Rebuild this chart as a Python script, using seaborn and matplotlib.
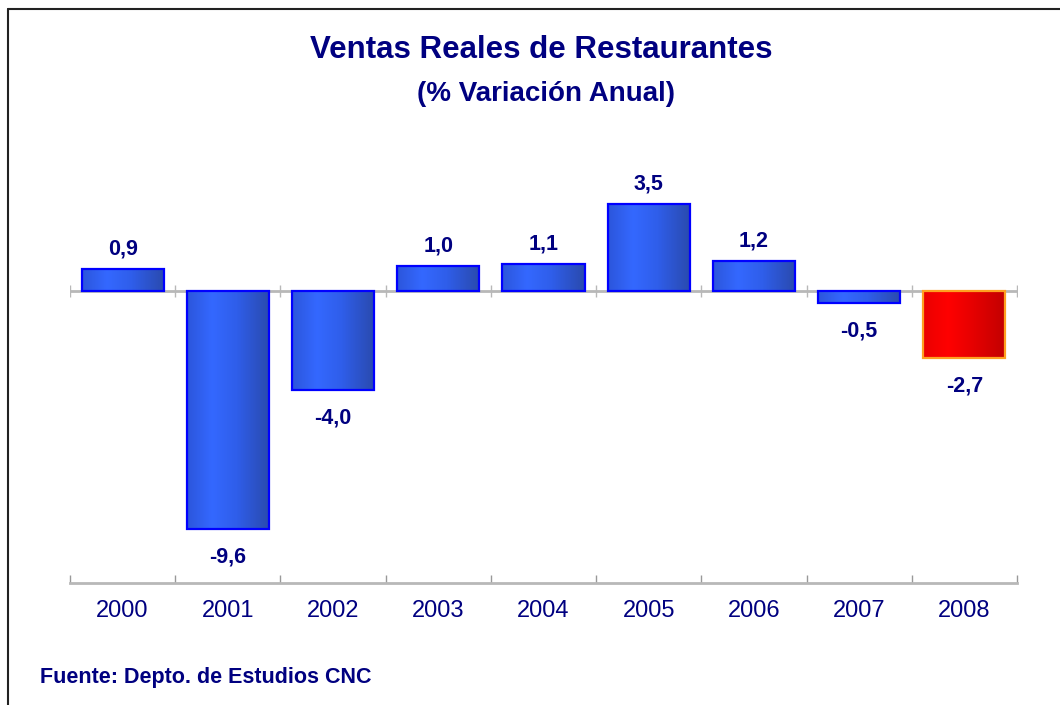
import numpy as np
import pandas as pd
import matplotlib
matplotlib.use('Agg')
import matplotlib.pyplot as plt
from matplotlib.colors import LinearSegmentedColormap
import seaborn as sns

# Data
years = ['2000', '2001', '2002', '2003', '2004', '2005', '2006', '2007', '2008']
variacion = [0.9, -9.6, -4.0, 1.0, 1.1, 3.5, 1.2, -0.5, -2.7]
bar_colors = ['#3366ff'] * 8 + ['#ff0000']

title = 'Ventas Reales de Restaurantes'
subtitle = '(% Variación Anual)'
source = 'Fuente: Depto. de Estudios CNC'

navy = '#000080'
grey = '#b8b8b8'

sns.set_style('white')
plt.rcParams['font.family'] = ['Liberation Sans', 'DejaVu Sans']

df = pd.DataFrame({'year': years, 'value': variacion})

fig = plt.figure(figsize=(10.6, 7.05), dpi=100)
ax = fig.add_axes([70 / 1060, 1 - 583 / 705, 947 / 1060, (583 - 142.2) / 705])

sns.barplot(data=df, x='year', y='value', hue='year', palette=bar_colors,
            legend=False, width=0.78, ax=ax, zorder=3)

# gradient fill like the old Excel bars
blue_cmap = LinearSegmentedColormap.from_list(
    'b', [(0, '#2c56dc'), (0.3, '#3468ff'), (0.6, '#2f5eea'), (1, '#2a4aae')])
red_cmap = LinearSegmentedColormap.from_list(
    'r', [(0, '#ea0000'), (0.3, '#ff0000'), (0.6, '#e60000'), (1, '#c20000')])
grad = np.linspace(0, 1, 100)[np.newaxis, :]

for patch, col in zip(ax.patches, bar_colors):
    x0, y0 = patch.get_x(), patch.get_y()
    w, h = patch.get_width(), patch.get_height()
    cmap = red_cmap if col == '#ff0000' else blue_cmap
    im = ax.imshow(grad, cmap=cmap, aspect='auto', zorder=2,
                   extent=[x0, x0 + w, min(y0, y0 + h), max(y0, y0 + h)])
    im.set_clip_path(patch)
    patch.set_facecolor('none')
    patch.set_edgecolor('#ffa020' if col == '#ff0000' else '#0000ff')
    patch.set_linewidth(1.6)

n = len(years)
ax.set_xlim(-0.5, n - 0.5)
ax.set_ylim((291 - 583) / 24.8, (291 - 142.2) / 24.8)

# value labels
for i, v in enumerate(variacion):
    txt = f'{v:.1f}'.replace('.', ',')
    off = 14.5 if v > 0 else -20
    ax.annotate(txt, (i, v), xytext=(0, off), textcoords='offset points',
                ha='center', va='center', fontsize=15.5, fontweight='bold',
                color=navy)

# zero line with small category ticks
bounds = np.arange(n + 1) - 0.5
ax.axhline(0, color=grey, lw=2, zorder=1)
ax.plot(bounds, np.zeros(n + 1), ls='none', marker='|', ms=8, mew=1,
        color=grey, zorder=1)

# axes styling
for s in ['top', 'right', 'left']:
    ax.spines[s].set_visible(False)
ax.spines['bottom'].set_color(grey)
ax.spines['bottom'].set_linewidth(2)
ax.set_yticks([])
ax.set_xlabel('')
ax.set_ylabel('')
ax.set_xticks(range(n))
ax.set_xticklabels(years, fontsize=17, color=navy)
ax.tick_params(axis='x', which='major', length=0, pad=12)
ax.set_xticks(bounds, minor=True)
ax.tick_params(axis='x', which='minor', bottom=True, direction='in',
               length=6, width=1, color='#999999')

fig.text(541 / 1060, 1 - 50 / 705, title, ha='center', va='center',
         fontsize=22.5, fontweight='bold', color=navy)
fig.text(546 / 1060, 1 - 94 / 705, subtitle, ha='center', va='center',
         fontsize=20, fontweight='bold', color=navy)
fig.text(40 / 1060, 1 - 677 / 705, source, ha='left', va='center',
         fontsize=15.5, fontweight='bold', color=navy)

# frame on top and left like the pasted chart object
fig.add_artist(plt.Line2D([8 / 1060, 1], [1 - 9 / 705] * 2,
                          transform=fig.transFigure, color='#222222', lw=1.5))
fig.add_artist(plt.Line2D([8 / 1060] * 2, [0, 1 - 9 / 705],
                          transform=fig.transFigure, color='#222222', lw=1.5))

fig.savefig('out.png', dpi=100, facecolor='white')
